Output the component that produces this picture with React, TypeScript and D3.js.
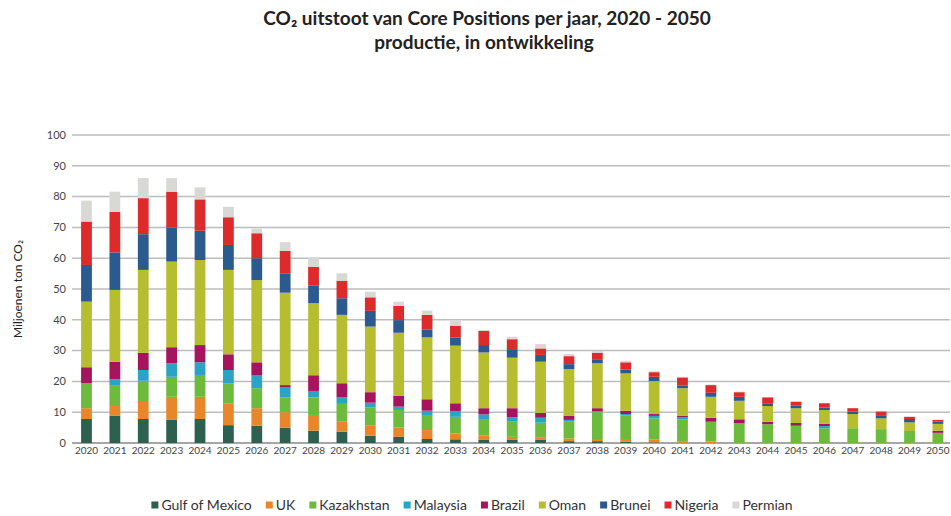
import React, { useEffect, useRef } from "react";
import * as d3 from "d3";

const years = d3.range(2020, 2051).map(String);

const seriesNames = [
  "Gulf of Mexico",
  "UK",
  "Kazakhstan",
  "Malaysia",
  "Brazil",
  "Oman",
  "Brunei",
  "Nigeria",
  "Permian",
];

const seriesColors = [
  "#2c6150",
  "#e8862a",
  "#6cbb3c",
  "#2aa3c4",
  "#a7145e",
  "#b6bd2f",
  "#2a5a8e",
  "#dd2b2b",
  "#d8d8d5",
];

// Mt CO2 per year, 2020 - 2050
const gulfOfMexico = [7.8, 8.8, 7.8, 7.5, 7.8, 5.8, 5.6, 5.0, 4.0, 3.7, 2.4, 2.0, 1.3, 1.2, 1.0, 1.0, 1.0, 0.6, 0.6, 0.4, 0.2, 0.1, 0, 0, 0, 0, 0, 0, 0, 0, 0];
const uk = [3.5, 3.2, 5.5, 7.5, 7.2, 7.1, 5.7, 5.0, 5.1, 3.2, 3.2, 3.0, 2.9, 1.9, 1.4, 1.0, 0.7, 0.9, 0.4, 0.9, 1.0, 0.3, 0.5, 0, 0, 0, 0, 0, 0, 0, 0];
const kazakhstan = [8.1, 6.8, 6.9, 6.5, 7.1, 6.5, 6.5, 4.8, 5.7, 5.8, 5.9, 5.7, 4.9, 5.4, 5.4, 5.1, 4.9, 5.6, 9.0, 7.6, 6.8, 7.3, 6.4, 6.4, 6.1, 5.6, 4.8, 4.8, 4.5, 3.9, 3.3];
const malaysia = [0, 1.9, 3.5, 4.4, 4.1, 4.3, 4.1, 3.2, 2.1, 2.1, 1.6, 1.1, 1.4, 1.9, 1.5, 1.2, 1.6, 0.4, 0.3, 0.5, 0.8, 0.6, 0, 0, 0, 0, 0.7, 0, 0, 0, 0];
const brazil = [5.2, 5.7, 5.6, 5.2, 5.6, 5.1, 4.3, 0.8, 5.1, 4.6, 3.4, 3.5, 3.7, 2.5, 2.0, 3.0, 1.6, 1.4, 1.0, 1.1, 0.6, 0.6, 1.3, 1.3, 0.8, 0.9, 0.7, 0, 0, 0, 0.7];
const oman = [21.3, 23.3, 26.9, 27.8, 27.6, 27.4, 26.7, 30.0, 23.4, 22.2, 21.3, 20.5, 20.1, 18.7, 18.1, 16.4, 16.6, 15.1, 14.6, 12.1, 10.7, 8.9, 6.8, 6.0, 5.1, 4.8, 4.5, 4.6, 3.5, 2.8, 2.2];
const brunei = [11.9, 12.2, 11.6, 11.0, 9.5, 8.1, 7.1, 6.3, 5.8, 5.4, 5.1, 4.1, 2.6, 2.7, 2.4, 2.5, 2.2, 1.6, 1.3, 1.3, 1.4, 0.8, 1.3, 1.3, 0.9, 0.8, 0.8, 0.8, 0.8, 1.1, 0.7];
const nigeria = [14.1, 13.1, 11.7, 11.7, 10.2, 9.0, 8.1, 7.3, 6.0, 5.7, 4.4, 4.6, 4.7, 3.8, 4.6, 3.5, 2.1, 2.6, 2.1, 2.3, 1.5, 2.7, 2.5, 1.5, 1.9, 1.3, 1.4, 1.1, 1.4, 0.7, 0.6];
const permian = [6.8, 6.6, 6.5, 4.4, 3.9, 3.4, 1.5, 2.8, 3.0, 2.4, 1.8, 1.4, 1.4, 1.6, 0.3, 0.8, 1.4, 0.7, 0.6, 0.5, 0.3, 0.2, 0.2, 0.2, 0, 0, 0, 0, 0, 0, 0];

const seriesValues = [gulfOfMexico, uk, kazakhstan, malaysia, brazil, oman, brunei, nigeria, permian];

const yTicks = [0, 10, 20, 30, 40, 50, 60, 70, 80, 90, 100];

const WIDTH = 951;
const HEIGHT = 516;
const FONT = "Lato, 'Open Sans', sans-serif";

export default function App() {
  const ref = useRef<SVGSVGElement | null>(null);

  useEffect(() => {
    const svg = d3.select(ref.current);
    svg.selectAll("*").remove();

    const margin = { left: 72, right: 0, top: 135, bottom: 73 };
    const plotBottom = HEIGHT - margin.bottom;

    const x = d3
      .scaleBand<string>()
      .domain(years)
      .range([72.3, 952.1])
      .paddingInner(0.62)
      .paddingOuter(0.31);

    const y = d3.scaleLinear().domain([0, 100]).range([plotBottom, margin.top]);

    const rows = years.map((yr, i) => {
      const row: Record<string, number | string> = { year: yr };
      seriesNames.forEach((s, j) => (row[s] = seriesValues[j][i]));
      return row;
    });

    const stacked = d3.stack<Record<string, number | string>>().keys(seriesNames)(rows as any);

    // Title
    const title = svg.append("g").attr("font-family", FONT).attr("fill", "#222").attr("text-anchor", "middle");
    title
      .append("text")
      .attr("x", 487)
      .attr("y", 25)
      .attr("font-size", 19)
      .attr("font-weight", 700)
      .text("CO₂ uitstoot van Core Positions per jaar, 2020 - 2050");
    title
      .append("text")
      .attr("x", 484)
      .attr("y", 49)
      .attr("font-size", 19)
      .attr("font-weight", 700)
      .text("productie, in ontwikkeling");

    // Gridlines and y tick labels
    const grid = svg.append("g");
    grid
      .selectAll("line")
      .data(yTicks)
      .join("line")
      .attr("x1", 72)
      .attr("x2", 950)
      .attr("y1", (d) => y(d))
      .attr("y2", (d) => y(d))
      .attr("stroke", (d) => (d === 0 ? "#888" : "#bdbdbd"))
      .attr("stroke-width", 1.5);

    svg
      .append("g")
      .attr("font-family", FONT)
      .attr("font-size", 11)
      .attr("fill", "#444")
      .attr("text-anchor", "end")
      .selectAll("text")
      .data(yTicks)
      .join("text")
      .attr("x", 66)
      .attr("y", (d) => y(d))
      .attr("dy", "0.35em")
      .text((d) => d);

    svg
      .append("text")
      .attr("transform", `translate(22, ${y(50)}) rotate(-90)`)
      .attr("text-anchor", "middle")
      .attr("font-family", FONT)
      .attr("font-size", 12)
      .attr("fill", "#222")
      .text("Miljoenen ton CO₂");

    // Stacked bars
    svg
      .append("g")
      .selectAll("g")
      .data(stacked)
      .join("g")
      .attr("fill", (_, i) => seriesColors[i])
      .selectAll("rect")
      .data((d) => d)
      .join("rect")
      .attr("x", (d) => x(String(d.data.year)) as number)
      .attr("width", x.bandwidth())
      .attr("y", (d) => y(d[1]))
      .attr("height", (d) => Math.max(0, y(d[0]) - y(d[1])));

    // X labels
    svg
      .append("g")
      .attr("font-family", FONT)
      .attr("font-size", 10)
      .attr("fill", "#444")
      .attr("text-anchor", "middle")
      .selectAll("text")
      .data(years)
      .join("text")
      .attr("x", (d) => (x(d) as number) + x.bandwidth() / 2)
      .attr("y", plotBottom + 11)
      .text((d) => d);

    // Legend
    const legend = svg.append("g").attr("font-family", FONT).attr("font-size", 14).attr("fill", "#333");
    const items = legend
      .selectAll("g")
      .data(seriesNames)
      .join("g");
    items
      .append("rect")
      .attr("width", 7)
      .attr("height", 7)
      .attr("y", -3.5)
      .attr("fill", (_, i) => seriesColors[i]);
    items
      .append("text")
      .attr("x", 10)
      .attr("dy", "0.35em")
      .text((d) => d);

    const gap = 14;
    let cursor = 0;
    const positions: number[] = [];
    items.each(function () {
      const t = (this as SVGGElement).querySelector("text") as SVGTextElement;
      positions.push(cursor);
      cursor += 10 + t.getComputedTextLength() + gap;
    });
    const total = cursor - gap;
    const start = 472 - total / 2;
    items.attr("transform", (_, i) => `translate(${start + positions[i]}, 505)`);
  }, []);

  return (
    <svg
      ref={ref}
      width={WIDTH}
      height={HEIGHT}
      style={{ position: "absolute", left: 0, top: 0, background: "#fff" }}
    />
  );
}
